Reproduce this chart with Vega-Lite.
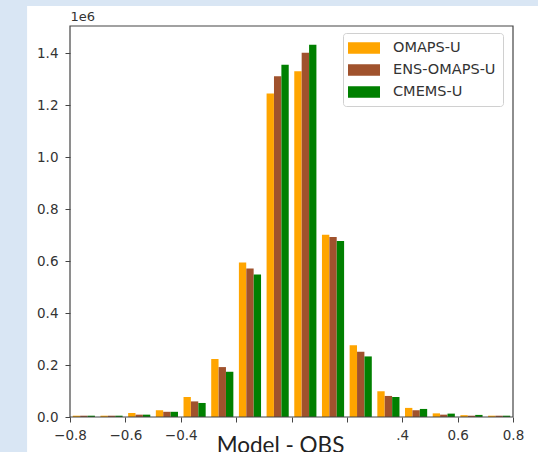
{
  "$schema": "https://vega.github.io/schema/vega-lite/v6.json",
  "width": 443,
  "height": 391,
  "autosize": {"type": "none"},
  "padding": {"left": 70, "top": 26, "right": 25, "bottom": 35},
  "background": "#d9e6f4",
  "config": {
    "view": {"stroke": null},
    "axis": {"grid": false, "domain": false, "tickColor": "#444", "tickSize": 5, "labelColor": "#333", "labelFont": "DejaVu Sans", "labelFontSize": 13.5}
  },
  "datasets": {
    "hist": [
      {"lo": -0.8, "hi": -0.7, "series": "OMAPS-U", "count": 0.005},
      {"lo": -0.8, "hi": -0.7, "series": "ENS-OMAPS-U", "count": 0.005},
      {"lo": -0.8, "hi": -0.7, "series": "CMEMS-U", "count": 0.005},
      {"lo": -0.7, "hi": -0.6, "series": "OMAPS-U", "count": 0.005},
      {"lo": -0.7, "hi": -0.6, "series": "ENS-OMAPS-U", "count": 0.005},
      {"lo": -0.7, "hi": -0.6, "series": "CMEMS-U", "count": 0.005},
      {"lo": -0.6, "hi": -0.5, "series": "OMAPS-U", "count": 0.015},
      {"lo": -0.6, "hi": -0.5, "series": "ENS-OMAPS-U", "count": 0.009},
      {"lo": -0.6, "hi": -0.5, "series": "CMEMS-U", "count": 0.009},
      {"lo": -0.5, "hi": -0.4, "series": "OMAPS-U", "count": 0.026},
      {"lo": -0.5, "hi": -0.4, "series": "ENS-OMAPS-U", "count": 0.02},
      {"lo": -0.5, "hi": -0.4, "series": "CMEMS-U", "count": 0.02},
      {"lo": -0.4, "hi": -0.3, "series": "OMAPS-U", "count": 0.077},
      {"lo": -0.4, "hi": -0.3, "series": "ENS-OMAPS-U", "count": 0.06},
      {"lo": -0.4, "hi": -0.3, "series": "CMEMS-U", "count": 0.054},
      {"lo": -0.3, "hi": -0.2, "series": "OMAPS-U", "count": 0.223},
      {"lo": -0.3, "hi": -0.2, "series": "ENS-OMAPS-U", "count": 0.192},
      {"lo": -0.3, "hi": -0.2, "series": "CMEMS-U", "count": 0.174},
      {"lo": -0.2, "hi": -0.1, "series": "OMAPS-U", "count": 0.594},
      {"lo": -0.2, "hi": -0.1, "series": "ENS-OMAPS-U", "count": 0.571},
      {"lo": -0.2, "hi": -0.1, "series": "CMEMS-U", "count": 0.548},
      {"lo": -0.1, "hi": 0.0, "series": "OMAPS-U", "count": 1.244},
      {"lo": -0.1, "hi": 0.0, "series": "ENS-OMAPS-U", "count": 1.311},
      {"lo": -0.1, "hi": 0.0, "series": "CMEMS-U", "count": 1.355},
      {"lo": 0.0, "hi": 0.1, "series": "OMAPS-U", "count": 1.33},
      {"lo": 0.0, "hi": 0.1, "series": "ENS-OMAPS-U", "count": 1.401},
      {"lo": 0.0, "hi": 0.1, "series": "CMEMS-U", "count": 1.432},
      {"lo": 0.1, "hi": 0.2, "series": "OMAPS-U", "count": 0.701},
      {"lo": 0.1, "hi": 0.2, "series": "ENS-OMAPS-U", "count": 0.692},
      {"lo": 0.1, "hi": 0.2, "series": "CMEMS-U", "count": 0.677},
      {"lo": 0.2, "hi": 0.3, "series": "OMAPS-U", "count": 0.276},
      {"lo": 0.2, "hi": 0.3, "series": "ENS-OMAPS-U", "count": 0.251},
      {"lo": 0.2, "hi": 0.3, "series": "CMEMS-U", "count": 0.233},
      {"lo": 0.3, "hi": 0.4, "series": "OMAPS-U", "count": 0.099},
      {"lo": 0.3, "hi": 0.4, "series": "ENS-OMAPS-U", "count": 0.081},
      {"lo": 0.3, "hi": 0.4, "series": "CMEMS-U", "count": 0.077},
      {"lo": 0.4, "hi": 0.5, "series": "OMAPS-U", "count": 0.035},
      {"lo": 0.4, "hi": 0.5, "series": "ENS-OMAPS-U", "count": 0.026},
      {"lo": 0.4, "hi": 0.5, "series": "CMEMS-U", "count": 0.031},
      {"lo": 0.5, "hi": 0.6, "series": "OMAPS-U", "count": 0.014},
      {"lo": 0.5, "hi": 0.6, "series": "ENS-OMAPS-U", "count": 0.009},
      {"lo": 0.5, "hi": 0.6, "series": "CMEMS-U", "count": 0.013},
      {"lo": 0.6, "hi": 0.7, "series": "OMAPS-U", "count": 0.007},
      {"lo": 0.6, "hi": 0.7, "series": "ENS-OMAPS-U", "count": 0.005},
      {"lo": 0.6, "hi": 0.7, "series": "CMEMS-U", "count": 0.008},
      {"lo": 0.7, "hi": 0.8, "series": "OMAPS-U", "count": 0.005},
      {"lo": 0.7, "hi": 0.8, "series": "ENS-OMAPS-U", "count": 0.005},
      {"lo": 0.7, "hi": 0.8, "series": "CMEMS-U", "count": 0.005}
    ]
  },
  "layer": [
    {
      "data": {"values": [{}]},
      "mark": {"type": "rect", "fill": "white"},
      "encoding": {
        "x": {
          "datum": -0.955,
          "type": "quantitative",
          "scale": {"domain": [-0.8, 0.8], "nice": false, "zero": false},
          "axis": {
            "zindex": 2,
            "values": [-0.8, -0.6, -0.4, -0.2, 0, 0.2, 0.4, 0.6, 0.8],
            "labelExpr": "abs(datum.value) < 0.3 ? '' : (abs(datum.value - 0.4) < 0.01 ? '.4' : replace(format(datum.value, '.1f'), '-', '\u2212'))",
            "labelPadding": 6,
            "labelFlush": false,
            "title": "Model - OBS",
            "titleFont": "Lato",
            "titleFontSize": 22.5,
            "titleFontWeight": "normal",
            "titleColor": "#222",
            "titleX": 210,
            "titleY": 35,
            "titleAlign": "center",
            "titleBaseline": "alphabetic"
          }
        },
        "x2": {"datum": 1.0},
        "y": {
          "datum": -0.2,
          "type": "quantitative",
          "scale": {"domain": [0, 1.504], "nice": false, "zero": false},
          "axis": {
            "zindex": 2,
            "values": [0, 0.2, 0.4, 0.6, 0.8, 1.0, 1.2, 1.4],
            "format": ".1f",
            "labelPadding": 7,
            "title": "1e6",
            "titleAngle": 0,
            "titleX": 0,
            "titleY": -6,
            "titleAlign": "left",
            "titleBaseline": "alphabetic",
            "titleFont": "DejaVu Sans",
            "titleFontSize": 13,
            "titleFontWeight": "normal",
            "titleColor": "#333"
          }
        },
        "y2": {"datum": 1.581}
      }
    },
    {
      "data": {"name": "hist"},
      "transform": [{"filter": "datum.series === 'OMAPS-U'"}],
      "mark": {"type": "bar", "xOffset": 2.77, "x2Offset": -17.58},
      "encoding": {
        "x": {"field": "lo", "type": "quantitative", "title": "Model - OBS"},
        "x2": {"field": "hi"},
        "y": {"field": "count", "type": "quantitative", "title": "1e6"},
        "y2": {"datum": 0},
        "color": {
          "field": "series",
          "type": "nominal",
          "scale": {"domain": ["OMAPS-U", "ENS-OMAPS-U", "CMEMS-U"], "range": ["#ffa500", "#a0522d", "#008000"]},
          "legend": {
            "title": null,
            "orient": "none",
            "legendX": 273,
            "legendY": 7,
            "symbolType": "M-2,-0.72H2V0.72H-2Z",
            "symbolSize": 256,
            "symbolStrokeWidth": 0,
            "symbolOpacity": 1,
            "symbolOffset": 6,
            "labelFont": "DejaVu Sans",
            "labelFontSize": 14.5,
            "labelColor": "#333",
            "labelOffset": 21,
            "rowPadding": 7,
            "padding": 7,
            "fillColor": "white",
            "strokeColor": "#d0d0d0",
            "cornerRadius": 3
          }
        }
      }
    },
    {
      "data": {"name": "hist"},
      "transform": [{"filter": "datum.series === 'ENS-OMAPS-U'"}],
      "mark": {"type": "bar", "xOffset": 10.17, "x2Offset": -10.17},
      "encoding": {
        "x": {"field": "lo", "type": "quantitative", "title": "Model - OBS"},
        "x2": {"field": "hi"},
        "y": {"field": "count", "type": "quantitative", "title": "1e6"},
        "y2": {"datum": 0},
        "color": {"field": "series", "type": "nominal"}
      }
    },
    {
      "data": {"name": "hist"},
      "transform": [{"filter": "datum.series === 'CMEMS-U'"}],
      "mark": {"type": "bar", "xOffset": 17.58, "x2Offset": -2.77},
      "encoding": {
        "x": {"field": "lo", "type": "quantitative", "title": "Model - OBS"},
        "x2": {"field": "hi"},
        "y": {"field": "count", "type": "quantitative", "title": "1e6"},
        "y2": {"datum": 0},
        "color": {"field": "series", "type": "nominal"}
      }
    },
    {
      "data": {"values": [{}]},
      "mark": {"type": "rect", "fill": null, "stroke": "#444", "strokeWidth": 1.2},
      "encoding": {
        "x": {"datum": -0.8, "type": "quantitative", "title": "Model - OBS"},
        "x2": {"datum": 0.8},
        "y": {"datum": 0, "type": "quantitative", "title": "1e6"},
        "y2": {"datum": 1.504}
      }
    }
  ]
}
